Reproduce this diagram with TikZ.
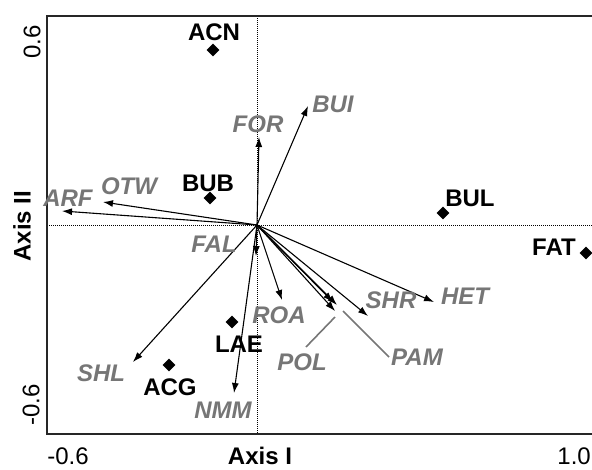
\documentclass[tikz,border=0pt]{standalone}
\usepackage{fontspec}
\setmainfont{Liberation Sans}
\usetikzlibrary{arrows.meta,shapes.geometric}
\definecolor{labgray}{RGB}{118,118,118}
\tikzset{
  site/.style={font=\fontsize{24}{28}\selectfont\bfseries, text=black, inner sep=0pt},
  var/.style={font=\fontsize{24}{28}\selectfont\bfseries\itshape, text=labgray, inner sep=0pt},
  tick/.style={font=\fontsize{24}{28}\selectfont, inner sep=0pt},
  axlab/.style={font=\fontsize{24}{28}\selectfont\bfseries, inner sep=0pt},
  sitemark/.style={diamond, fill=black, minimum size=13pt, inner sep=0pt},
  vec/.style={line width=1.1pt, -{Latex[length=10pt,width=7pt]}},
  leader/.style={labgray, line width=1.6pt},
  frame/.style={line width=1.8pt, black!85},
  refline/.style={line width=1pt, dash pattern=on 1pt off 1pt}
}
\begin{document}
\begin{tikzpicture}[x=1pt,y=-1pt]
\useasboundingbox (0,0) rectangle (592,469);
% reference lines
\draw[refline] (257,16) -- (257,434);
\draw[refline] (47,225) -- (592,225);
% frame
\draw[frame] (592,16) -- (47,16) -- (47,434) -- (592,434);
% origin and tips
\coordinate (O) at (257,225);
\coordinate (tFOR) at (259,137);
\coordinate (tBUI) at (308,106);
\coordinate (tOTW) at (103,202);
\coordinate (tARF) at (62,211);
\coordinate (tFAL) at (256,256);
\coordinate (tSHL) at (133,362);
\coordinate (tNMM) at (234,393);
\coordinate (tROA) at (282,300);
\coordinate (tPOL) at (333,302);
\coordinate (tX) at (337,305);
\coordinate (tPAM) at (335,311);
\coordinate (tSHR) at (368,316);
\coordinate (tHET) at (434,302);
\foreach \t in {FOR,BUI,OTW,ARF,FAL,SHL,NMM,ROA,POL,X,PAM,SHR,HET}
  \draw[vec] (O) -- (t\t);
% variable labels
\node[var] (FOR) at (258,124) {FOR};
\node[var] (BUI) at (333,104) {BUI};
\node[var] (OTW) at (129,186) {OTW};
\node[var] (ARF) at (68,198) {ARF};
\node[var] (FAL) at (214,244) {FAL};
\node[var] (ROA) at (279,315) {ROA};
\node[var] (SHR) at (391,300) {SHR};
\node[var] (HET) at (465,296) {HET};
\node[var] (POL) at (302,362) {POL};
\node[var] (PAM) at (417,357) {PAM};
\node[var] (SHL) at (101,373) {SHL};
\node[var] (NMM) at (223,410) {NMM};
% leaders
\coordinate (lPOL) at (335,317);
\coordinate (lPAM) at (343,311);
\draw[leader] (306,347) -- (lPOL);
\draw[leader] (389,357) -- (lPAM);
% sites
\node[sitemark] (mACN) at (213,50) {};
\node[sitemark] (mBUB) at (210,198) {};
\node[sitemark] (mBUL) at (443,213) {};
\node[sitemark] (mFAT) at (586,253) {};
\node[sitemark] (mLAE) at (232,322) {};
\node[sitemark] (mACG) at (169,365) {};
\node[site] (ACN) at (214,32) {ACN};
\node[site] (BUB) at (208,183) {BUB};
\node[site] (BUL) at (470,198) {BUL};
\node[site] (FAT) at (554,247) {FAT};
\node[site] (LAE) at (239,344) {LAE};
\node[site] (ACG) at (170,387) {ACG};
% axes labels
\node[tick] (xmin) at (68,456) {-0.6};
\node[tick, anchor=east] (xmax) at (591,456) {1.0};
\node[axlab] (xlab) at (260,456) {Axis I};
\node[tick, rotate=90] (ymax) at (32,42) {0.6};
\node[tick, rotate=90] (ymin) at (31,405) {-0.6};
\node[axlab, rotate=90] (ylab) at (22,226) {Axis II};
\end{tikzpicture}
\end{document}
